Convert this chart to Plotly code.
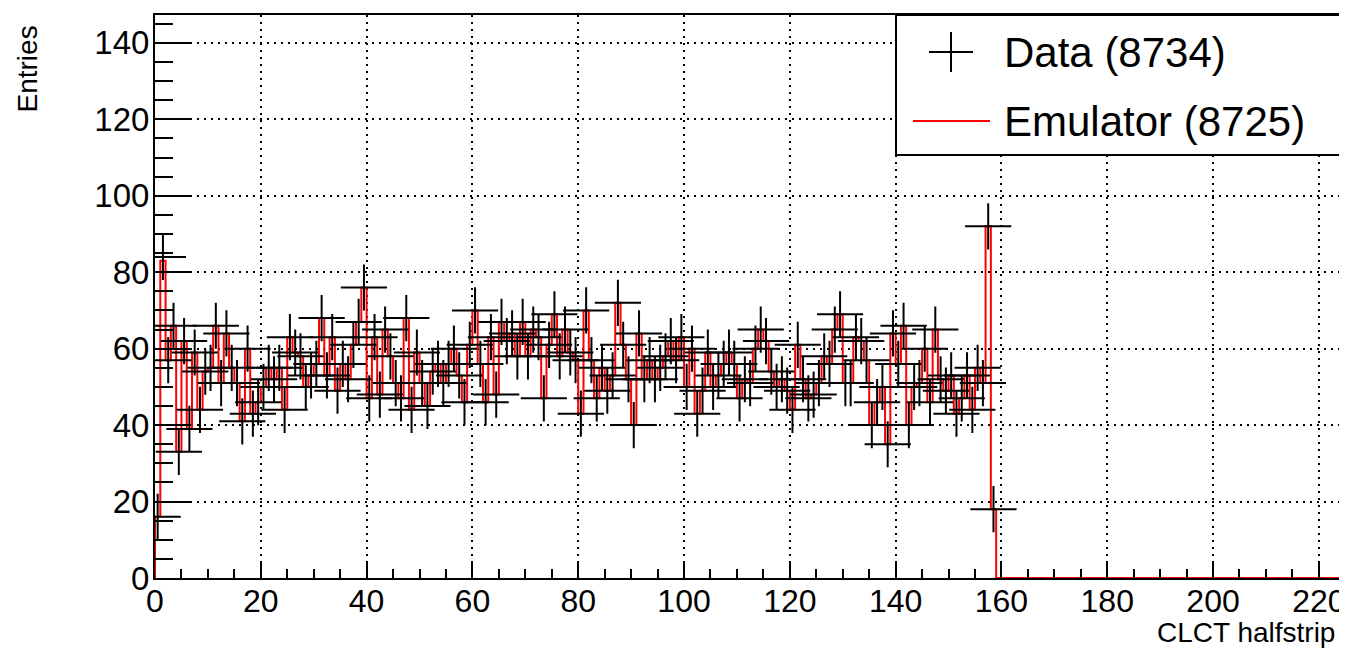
import plotly.graph_objects as go

# ---------------- data ----------------
n_bins = 224
emulator_counts = [
    16, 83, 57, 66, 33, 62, 39, 59, 44, 54,
    55, 66, 51, 64, 55, 51, 41, 60, 43, 46,
    50, 55, 52, 55, 44, 63, 59, 58, 50, 53,
    56, 68, 53, 63, 49, 56, 52, 61, 67, 76,
    47, 63, 48, 65, 58, 51, 47, 68, 44, 59,
    51, 45, 54, 56, 51, 56, 60, 53, 46, 61,
    70, 56, 46, 63, 48, 67, 62, 64, 58, 67,
    58, 65, 63, 47, 61, 69, 58, 65, 59, 57,
    43, 70, 57, 47, 55, 49, 53, 72, 61, 52,
    40, 64, 52, 57, 52, 55, 58, 62, 57, 63,
    50, 60, 43, 49, 59, 50, 53, 56, 59, 56,
    47, 52, 51, 60, 65, 62, 54, 50, 52, 49,
    44, 61, 52, 47, 48, 51, 58, 56, 65, 69,
    51, 51, 63, 62, 57, 40, 46, 50, 35, 64,
    56, 66, 40, 50, 51, 60, 46, 65, 52, 49,
    53, 43, 47, 53, 44, 55, 51, 92, 18,
]
data_counts = list(emulator_counts)
data_counts[1] = 84

x_ticks = list(range(0, 240, 20))
y_ticks = list(range(0, 160, 20))
data_label = "Data (8734)"
emu_label = "Emulator (8725)"
x_title = "CLCT halfstrip"
y_title = "Entries"

# pad to full axis range (empty bins)
emu_full = emulator_counts + [0] * (n_bins - len(emulator_counts))
edges = list(range(n_bins + 1))
step_x = [0] + edges
step_y = [0] + emu_full + [emu_full[-1]]

data_x = [i + 0.5 for i, v in enumerate(data_counts) if v > 0]
data_y = [v for v in data_counts if v > 0]

FONT = "Liberation Sans, Arial, Helvetica, sans-serif"
OFF = 8  # default page body margin
WIN_W, WIN_H = 1347, 648
W, H = WIN_W - OFF, WIN_H - OFF
# target plot frame in window pixels
FX0, FX1, FY0, FY1 = 155, 1340, 15, 578
L, R, T, B = FX0 - OFF, (W + OFF) - FX1, FY0 - OFF, (H + OFF) - FY1
PW, PH = FX1 - FX0, FY1 - FY0

fig = go.Figure()
fig.add_trace(go.Scatter(
    x=step_x, y=step_y, mode="lines", line=dict(color="#ff0000", width=2, shape="hv"),
    name=emu_label, showlegend=False, hoverinfo="skip"))
fig.add_trace(go.Scatter(
    x=data_x, y=data_y, mode="markers",
    marker=dict(symbol="cross-thin", size=33, color="black",
                line=dict(color="black", width=2)),
    name=data_label, showlegend=False))

axis_common = dict(
    showline=True, linecolor="black", linewidth=2, mirror=True,
    ticks="inside", tickcolor="black", tickwidth=2,
    showgrid=True, gridcolor="black", gridwidth=1.5, griddash="2px,5px",
    zeroline=False, automargin=False,
)
fig.update_xaxes(range=[0, 224], tickvals=x_ticks, ticklen=17, ticklabelstandoff=-6,
                 tickfont=dict(family=FONT, size=32, color="black"),
                 minor=dict(dtick=5, tick0=0, ticklen=9, tickwidth=2, tickcolor="black",
                            ticks="inside", showgrid=False),
                 **axis_common)
fig.update_yaxes(range=[0, 147.3], tickvals=y_ticks, ticklen=36, ticklabelstandoff=-3,
                 tickfont=dict(family=FONT, size=33, color="black"),
                 minor=dict(dtick=5, tick0=0, ticklen=18, tickwidth=2, tickcolor="black",
                            ticks="inside", showgrid=False),
                 **axis_common)

def px(xp):
    return (xp - FX0) / PW

def py(yp):
    return (FY1 - yp) / PH

shapes = [
    dict(type="rect", xref="paper", yref="paper", x0=px(896), x1=px(1340), y0=py(155), y1=py(15),
         line=dict(color="black", width=2), fillcolor="white", layer="above"),
    dict(type="line", xref="paper", yref="paper", x0=px(913), x1=px(990), y0=py(121), y1=py(121),
         line=dict(color="#ff0000", width=2), layer="above"),
    dict(type="line", xref="paper", yref="paper", x0=px(929), x1=px(973), y0=py(52), y1=py(52),
         line=dict(color="black", width=2), layer="above"),
    dict(type="line", xref="paper", yref="paper", x0=px(951), x1=px(951), y0=py(32), y1=py(72),
         line=dict(color="black", width=2), layer="above"),
]
annotations = [
    dict(text=data_label, xref="paper", yref="paper", x=px(1002), y=py(52), xanchor="left",
         yanchor="middle", showarrow=False, font=dict(family=FONT, size=42, color="black")),
    dict(text=emu_label, xref="paper", yref="paper", x=px(1002), y=py(122), xanchor="left",
         yanchor="middle", showarrow=False, font=dict(family=FONT, size=42, color="black")),
    dict(text=x_title, xref="paper", yref="paper", x=px(1337), y=py(632), xanchor="right",
         yanchor="middle", showarrow=False, font=dict(family=FONT, size=28, color="black")),
    dict(text=y_title, xref="paper", yref="paper", x=px(27), y=py(24), xanchor="center",
         yanchor="top", textangle=-90, showarrow=False, font=dict(family=FONT, size=28, color="black")),
]

fig.update_layout(
    width=W, height=H, margin=dict(l=L, r=R, t=T, b=B),
    paper_bgcolor="white", plot_bgcolor="white",
    showlegend=False, shapes=shapes, annotations=annotations,
    font=dict(family=FONT, color="black"),
)
fig.write_html("out.html")
